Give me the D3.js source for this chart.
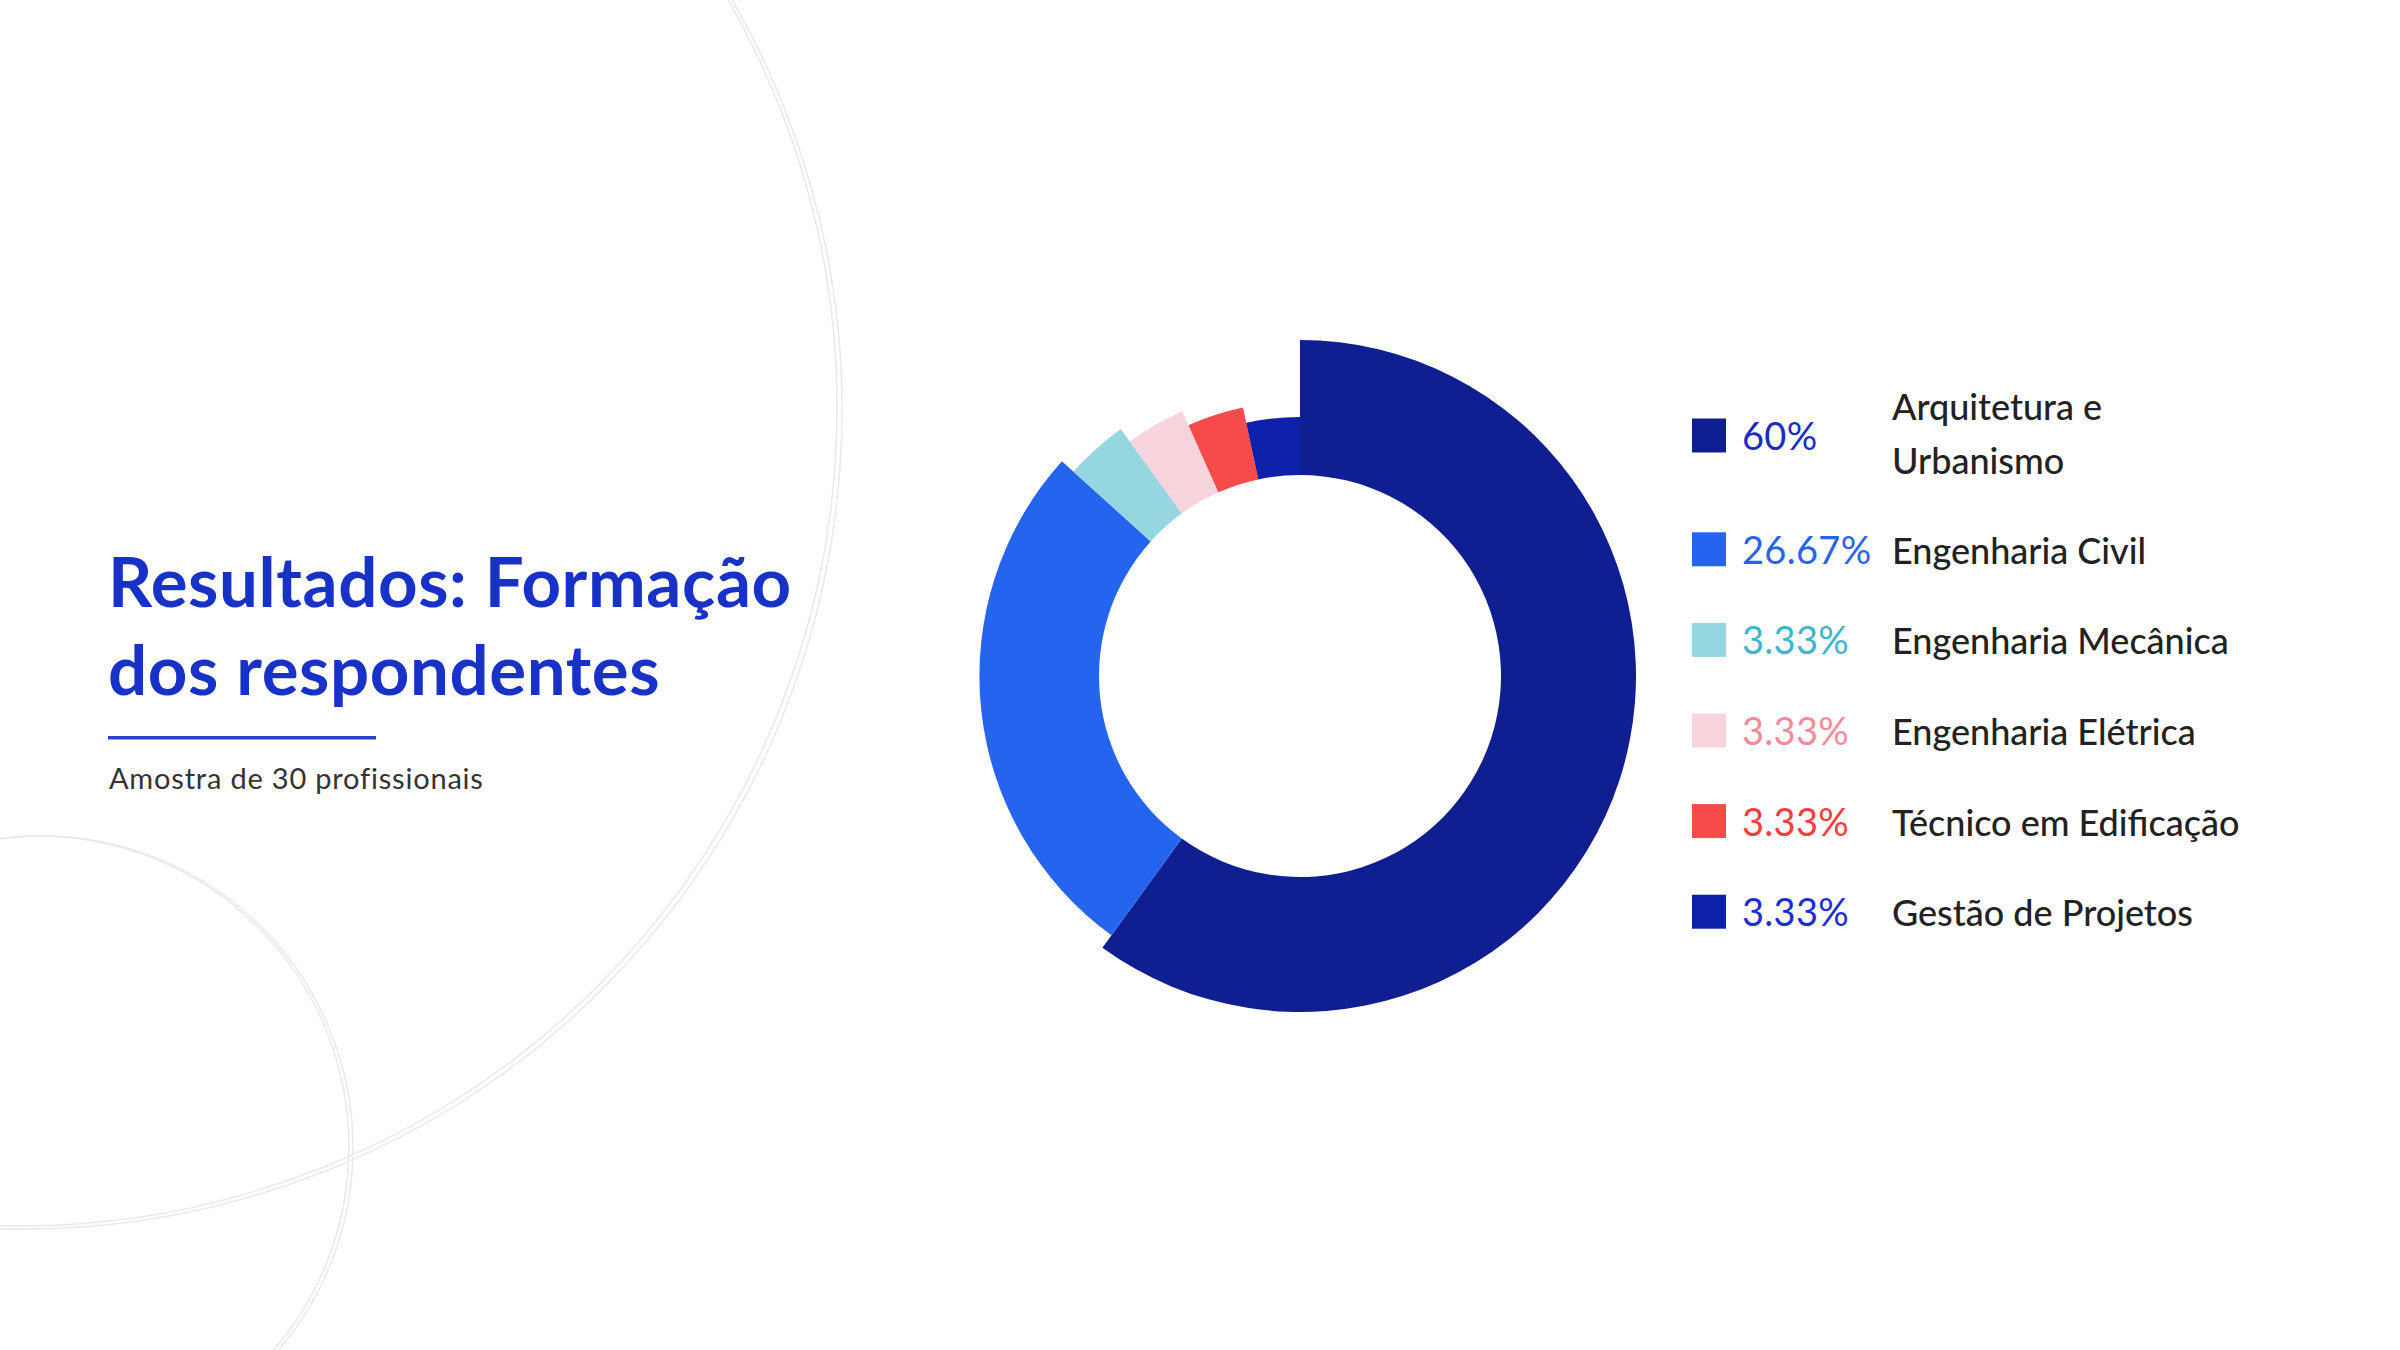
<!DOCTYPE html>
<html>
<head>
<meta charset="utf-8">
<script src="https://cdn.jsdelivr.net/npm/d3@7"></script>
<style>
  html, body { margin: 0; padding: 0; background: #ffffff; }
  svg { display: block; }
</style>
</head>
<body>
<svg id="chart" width="2400" height="1350"></svg>
<script>
// ---- data ----
const categories = ["Arquitetura e Urbanismo", "Engenharia Civil", "Engenharia Mecânica", "Engenharia Elétrica", "Técnico em Edificação", "Gestão de Projetos"];
const labelLines = [["Arquitetura e", "Urbanismo"], ["Engenharia Civil"], ["Engenharia Mecânica"], ["Engenharia Elétrica"], ["Técnico em Edificação"], ["Gestão de Projetos"]];
const values = [60, 26.67, 3.33, 3.33, 3.33, 3.33];
const pctLabels = ["60%", "26.67%", "3.33%", "3.33%", "3.33%", "3.33%"];
const sliceColors = ["#0f1f91", "#2464ee", "#95d6e0", "#f7d4dc", "#f64a4b", "#0d21ab"];
const pctColors = ["#1a2cc2", "#2563f0", "#3cb6cf", "#f28b9b", "#f53c3e", "#1b2fd0"];
const titleLines = ["Resultados: Formação", "dos respondentes"];
const subtitle = "Amostra de 30 profissionais";

// ---- setup ----
const svg = d3.select("#chart");
svg.append("rect").attr("width", 2400).attr("height", 1350).attr("fill", "#ffffff");

// decorative background circles
const deco = svg.append("g").attr("fill", "none").attr("stroke", "#e9e9e9").attr("stroke-width", 1.5);
[[19, 408, 818], [23, 410, 819], [38, 1147, 311], [41, 1148, 312]].forEach(c => {
  deco.append("circle").attr("cx", c[0]).attr("cy", c[1]).attr("r", c[2]);
});

// ---- title block ----
const font = "Lato, 'Open Sans', sans-serif";
const title = svg.append("g");
title.selectAll("text").data(titleLines).join("text")
  .attr("x", 108)
  .attr("y", (d, i) => 607 + i * 88)
  .attr("font-family", font)
  .attr("font-weight", 700)
  .attr("font-size", 69)
  .attr("letter-spacing", 0.6)
  .attr("fill", "#1832c8")
  .text(d => d);
svg.append("rect").attr("x", 108).attr("y", 736).attr("width", 268).attr("height", 3.5).attr("fill", "#2b40c8");
svg.append("text")
  .attr("x", 109).attr("y", 789)
  .attr("font-family", font).attr("font-size", 29).attr("letter-spacing", 0.8).attr("fill", "#333333")
  .text(subtitle);

// ---- donut ----
const cx = 1300, cy = 676;
const innerR = 201;
const rScale = d3.scaleLinear().domain([0, values.length - 1]).range([336, 259]);
const pie = d3.pie().sort(null).value(d => d).startAngle(0).endAngle(2 * Math.PI);
const arcs = pie(values);
const arcGen = d3.arc();
const donut = svg.append("g").attr("transform", `translate(${cx},${cy})`);
donut.selectAll("path").data(arcs).join("path")
  .attr("d", d => arcGen.innerRadius(innerR).outerRadius(rScale(d.index))(d))
  .attr("fill", (d, i) => sliceColors[i]);

// ---- legend ----
const legend = svg.append("g");
let yc = 435.5;
const rowCenters = [];
labelLines.forEach((lines, i) => {
  if (i > 0) yc += 90.6 + (labelLines[i - 1].length - 1) * 23.2;
  rowCenters.push(yc);
});
const rows = legend.selectAll("g").data(categories).join("g")
  .attr("transform", (d, i) => `translate(0,${rowCenters[i]})`);
rows.append("rect")
  .attr("x", 1692).attr("y", -17).attr("width", 34).attr("height", 34)
  .attr("fill", (d, i) => sliceColors[i]);
rows.append("text")
  .attr("x", 1742).attr("y", 14.5)
  .attr("font-family", font).attr("font-size", 38).attr("letter-spacing", 0.3)
  .attr("fill", (d, i) => pctColors[i])
  .text((d, i) => pctLabels[i]);
rows.each(function (d, i) {
  const lines = labelLines[i];
  const t = d3.select(this).append("text")
    .attr("font-family", font).attr("font-size", 36).attr("fill", "#222222")
    .attr("font-weight", 500);
  const y0 = 14.5 - (lines.length - 1) * 27 - (lines.length - 1) * 3.5;
  lines.forEach((ln, k) => {
    t.append("tspan").attr("x", 1892).attr("y", y0 + k * 54).text(ln);
  });
});
</script>
</body>
</html>
